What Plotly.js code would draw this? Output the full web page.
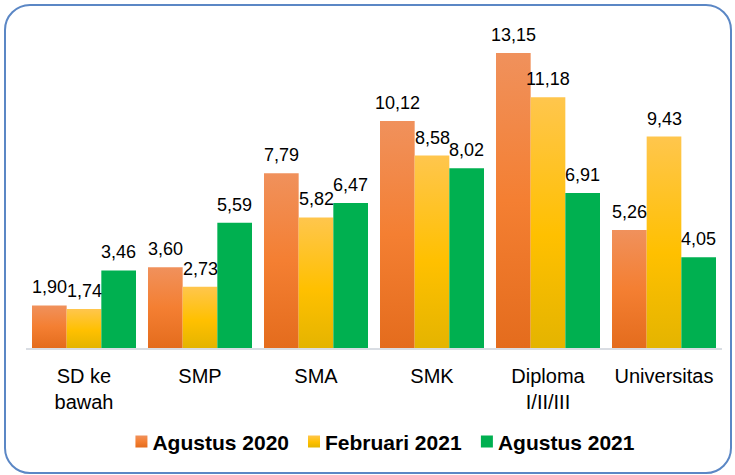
<!DOCTYPE html>
<html>
<head>
<meta charset="utf-8">
<script src="https://cdn.plot.ly/plotly-3.0.1.min.js"></script>
<style>
  html, body { margin: 0; padding: 0; background: #fff; }
  #wrap { position: relative; width: 735px; height: 475px; }
  #chart { position: absolute; left: 0; top: 0; width: 735px; height: 475px; }
  #frame { position: absolute; left: 4px; top: 4px; width: 724px; height: 466px;
           border: 2px solid #5B87C5; border-radius: 26px; pointer-events: none; box-sizing: content-box; }
</style>
</head>
<body>
<div id="wrap">
  <div id="chart"></div>
  <div id="frame"></div>
</div>
<script>
const categories = ["SD ke<br>bawah", "SMP", "SMA", "SMK", "Diploma<br>I/II/III", "Universitas"];
const seriesNames = ["Agustus 2020", "Februari 2021", "Agustus 2021"];
const agustus2020 = [1.90, 3.60, 7.79, 10.12, 13.15, 5.26];
const februari2021 = [1.74, 2.73, 5.82, 8.58, 11.18, 9.43];
const agustus2021 = [3.46, 5.59, 6.47, 8.02, 6.91, 4.05];

const seriesValues = [agustus2020, februari2021, agustus2021];
const colors = ["#F47F32", "#FFC000", "#00B050"];
const fmt = v => v.toFixed(2).replace(".", ",");

const FONT = "Liberation Sans, Arial, sans-serif";
const traces = seriesValues.map((vals, i) => ({
  type: "bar",
  name: seriesNames[i],
  x: categories,
  y: vals,
  marker: { color: colors[i], line: { width: 0 } },
  hoverinfo: "none"
}));

const groupW = 116, bargap = 12 / 116;
const barW = groupW * (1 - bargap) / 3;
const annotations = [];
seriesValues.forEach((vals, i) => {
  vals.forEach((v, j) => {
    annotations.push({
      x: categories[j], y: v, xref: "x", yref: "y",
      text: fmt(v), showarrow: false,
      xanchor: "center", yanchor: "bottom",
      xshift: (i - 1) * barW, yshift: 6,
      font: { family: FONT, size: 18, color: "#000" }
    });
  });
});

const layout = {
  width: 735, height: 475,
  margin: { l: 26, r: 13, t: 30, b: 127 },
  paper_bgcolor: "rgba(0,0,0,0)",
  plot_bgcolor: "rgba(0,0,0,0)",
  barmode: "group",
  bargap: bargap,
  bargroupgap: 0,
  showlegend: true,
  legend: {
    orientation: "h", x: 0.515, xanchor: "center", y: -0.295, yanchor: "middle",
    font: { family: FONT, size: 21, color: "#000", weight: "bold" },
    itemwidth: 30, tracegroupgap: 0
  },
  xaxis: {
    type: "category",
    showline: true, linecolor: "#D9DDE3", linewidth: 2,
    showgrid: false, zeroline: false, ticks: "",
    tickfont: { family: FONT, size: 20, color: "#000" },
    ticklabelstandoff: 9
  },
  yaxis: {
    range: [0, 14.18], visible: false, showgrid: false, zeroline: false
  },
  annotations: annotations,
  font: { family: FONT }
};

Plotly.newPlot("chart", traces, layout, { displayModeBar: false, staticPlot: true }).then(gd => {
  const svg = gd.querySelector("svg.main-svg");
  const ns = "http://www.w3.org/2000/svg";
  const defs = document.createElementNS(ns, "defs");
  const grads = {
    gOrange: [["0", "#F0915C"], ["0.5", "#F47F32"], ["1", "#E46C1D"]],
    gYellow: [["0", "#FFC64D"], ["0.55", "#FFC000"], ["1", "#E4B400"]]
  };
  Object.keys(grads).forEach(id => {
    const g = document.createElementNS(ns, "linearGradient");
    g.setAttribute("id", id);
    g.setAttribute("x1", "0"); g.setAttribute("y1", "0");
    g.setAttribute("x2", "0"); g.setAttribute("y2", "1");
    grads[id].forEach(([o, c]) => {
      const s = document.createElementNS(ns, "stop");
      s.setAttribute("offset", o); s.setAttribute("stop-color", c);
      g.appendChild(s);
    });
    defs.appendChild(g);
  });
  svg.insertBefore(defs, svg.firstChild);
  const ids = ["gOrange", "gYellow"];
  const barTraces = gd.querySelectorAll(".barlayer .trace");
  barTraces.forEach((t, i) => {
    if (i < 2) t.querySelectorAll("path").forEach(p => { p.style.fill = "url(#" + ids[i] + ")"; });
  });
  const legItems = gd.querySelectorAll(".legend .traces");
  legItems.forEach((t, i) => {
    if (i < 2) t.querySelectorAll(".legendpoints path").forEach(p => { p.style.fill = "url(#" + ids[i] + ")"; });
    // tighten symbol-to-text spacing like the reference
    const txt = t.querySelector("text.legendtext");
    if (txt) txt.setAttribute("x", String(parseFloat(txt.getAttribute("x") || "40") - 9));
    const tr = t.getAttribute("transform") || "";
    const m = tr.match(/translate\(\s*([-\d.]+)[ ,]+([-\d.]+)\s*\)/);
    if (m) {
      const nx = parseFloat(m[1]) + 10 - 9 * i;
      t.setAttribute("transform", "translate(" + nx + "," + m[2] + ")");
    }
  });
});
</script>
</body>
</html>
